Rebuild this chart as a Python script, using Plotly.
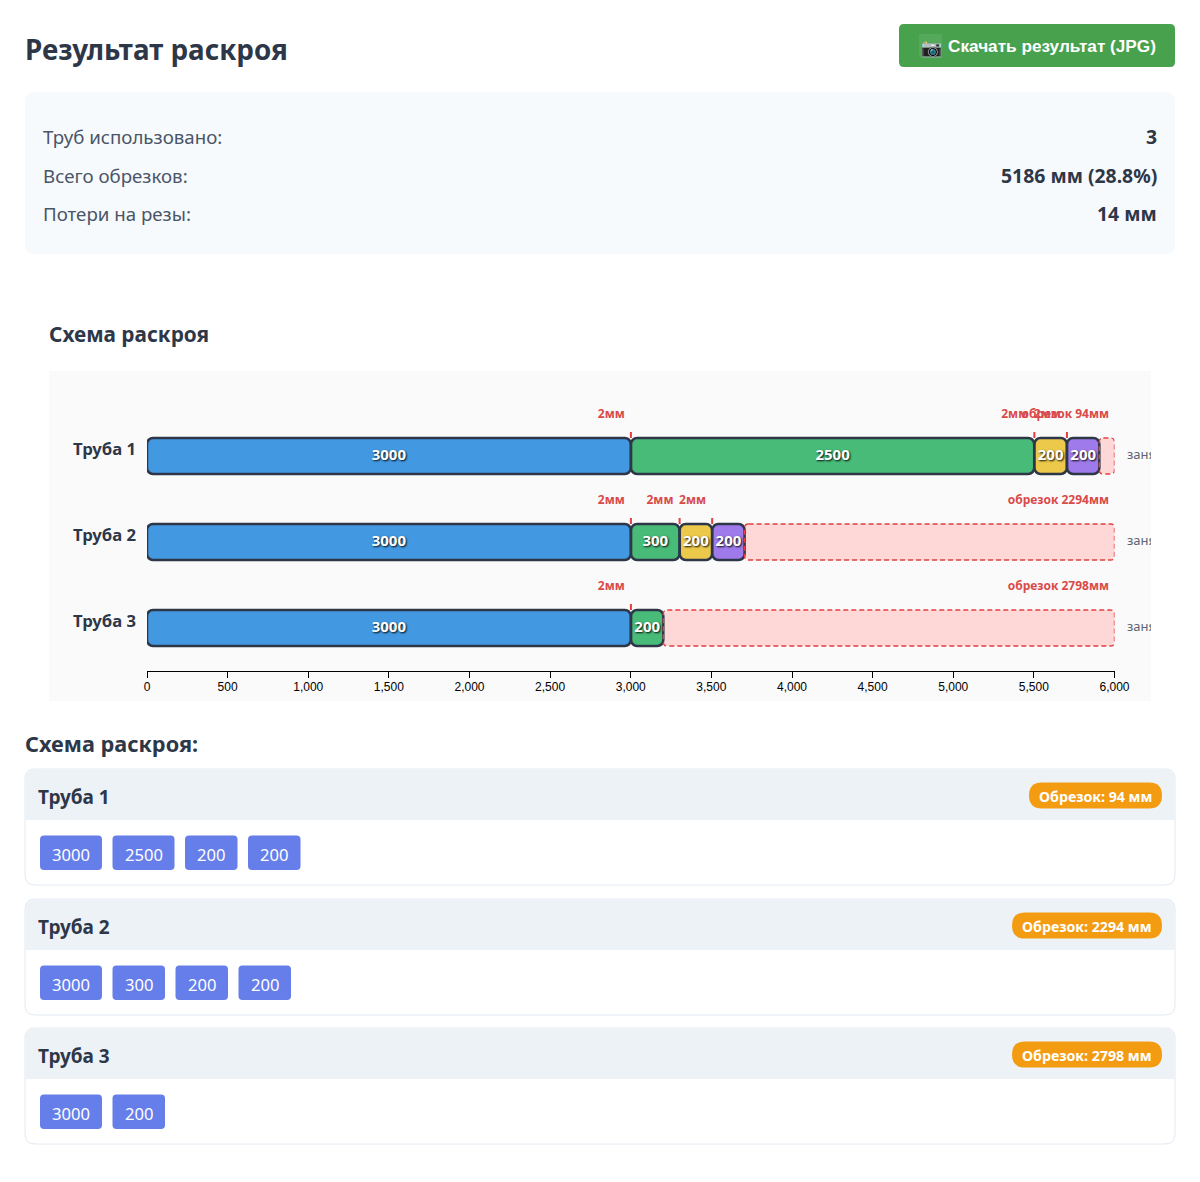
import plotly.graph_objects as go

# ---- cutting plan ----
pipe_names = ["Труба 1", "Труба 2", "Труба 3"]
pipe_cuts = [[3000, 2500, 200, 200], [3000, 300, 200, 200], [3000, 200]]
pipe_waste = [94, 2294, 2798]
pipe_used = [5906, 3706, 3202]
kerf_mm = 2
stock_ticks = [0, 500, 1000, 1500, 2000, 2500, 3000, 3500, 4000, 4500, 5000, 5500, 6000]
cut_colors = ["#4299e1", "#48bb78", "#ecc94b", "#9f7aea"]

summary_labels = ["Труб использовано:", "Всего обрезков:", "Потери на резы:"]
summary_values = ["3", "5186 мм (28.8%)", "14 мм"]

W, H = 1200, 1182
FONT = "Noto Sans"
DARK = "#2d3748"
RED = "#e53e3e"

# page-pixel geometry of the plot
AX_LEFT, AX_RIGHT, AX_TOP, AX_BOTTOM = 147, 1114.5, 413, 671
CLIP_RIGHT = 1151
PX_PER_MM = (AX_RIGHT - AX_LEFT) / 6000
BAND_PX = (AX_BOTTOM - AX_TOP) / 3
BAR_H = 36 / BAND_PX


def px(x):
    return x / W


def py(y):
    return 1 - y / H


def rounded(x0, y0, x1, y1, r, top_only=False):
    """SVG path of a rounded rectangle given in page pixels."""
    rb = 0 if top_only else r
    pts = [
        f"M {px(x0 + r)} {py(y0)}",
        f"L {px(x1 - r)} {py(y0)}",
        f"Q {px(x1)} {py(y0)} {px(x1)} {py(y0 + r)}",
        f"L {px(x1)} {py(y1 - rb)}",
        f"Q {px(x1)} {py(y1)} {px(x1 - rb)} {py(y1)}",
        f"L {px(x0 + rb)} {py(y1)}",
        f"Q {px(x0)} {py(y1)} {px(x0)} {py(y1 - rb)}",
        f"L {px(x0)} {py(y0 + r)}",
        f"Q {px(x0)} {py(y0)} {px(x0 + r)} {py(y0)}",
        "Z",
    ]
    return " ".join(pts)


shapes, notes = [], []


def box(x0, y0, x1, y1, r, fill, line=None, top_only=False):
    shapes.append(dict(
        type="path", xref="paper", yref="paper", layer="below",
        path=rounded(x0, y0, x1, y1, r, top_only),
        fillcolor=fill,
        line=dict(color=line or "rgba(0,0,0,0)", width=1 if line else 0),
    ))


def label(x, y, text, size, color, bold=False, anchor="left", family=FONT):
    notes.append(dict(
        xref="paper", yref="paper", x=px(x), y=py(y), text=f"<b>{text}</b>" if bold else text,
        showarrow=False, xanchor=anchor, yanchor="middle", borderpad=0, borderwidth=0,
        font=dict(family=family, size=size, color=color),
    ))


# ---- page header and summary ----
label(25, 48.5, "Результат раскроя", 27.8, DARK, bold=True)
box(899, 24, 1175, 67, 5, "#48a14d")
box(919, 34, 942, 57, 0, "#55a95a")
label(921, 47, "📷", 17, "#434955")
box(924, 41.5, 928, 44.5, 1.5, "#f2c94c")
label(948, 46, "Скачать результат (JPG)", 17.2, "#ffffff", bold=True, family="Liberation Sans")

box(25, 92, 1175, 254, 9, "#f7fafc")
for row_y, name, value in zip([136.5, 175.5, 213.5], summary_labels, summary_values):
    label(43, row_y, name, 18.7, "#4a5568")
    label(1157, row_y, value, 19.4, DARK, bold=True, anchor="right")

# ---- diagram panel ----
label(49, 334.5, "Схема раскроя", 20.8, DARK, bold=True)
box(49, 371, 1151, 701, 0, "#fafafa")

# ---- list of pipes ----
label(25, 743.5, "Схема раскроя:", 21.7, DARK, bold=True)
for card_top, name, cuts, waste in zip([769, 899, 1028], pipe_names, pipe_cuts, pipe_waste):
    box(25, card_top, 1175, card_top + 116, 10, "#ffffff", "#e2e8f0")
    box(25.5, card_top + 0.5, 1174.5, card_top + 51, 10, "#edf2f7", top_only=True)
    label(38, card_top + 27.5, name, 19, DARK, bold=True)
    pill_left = 1029 if waste < 1000 else 1012
    box(pill_left, card_top + 13.5, 1162, card_top + 39.5, 13, "#f39c12")
    label((pill_left + 1162) / 2, card_top + 27.5, f"Обрезок: {waste} мм", 14.2, "#ffffff", bold=True, anchor="center")
    chip_x = 40
    for cut in cuts:
        chip_w = 24 + 9.5 * len(str(cut))
        box(chip_x, card_top + 66.5, chip_x + chip_w, card_top + 101, 4, "#667eea")
        label(chip_x + chip_w / 2, card_top + 85, str(cut), 16.6, "#ffffff", anchor="center")
        chip_x += chip_w + 10.5

# ---- diagram marks derived from the plan ----
seg_x, seg_y, seg_base, seg_color, seg_text, seg_mid = [], [], [], [], [], []
kerf_x, kerf_y, kerf_lx, kerf_ly = [], [], [], []
waste_x, waste_y, waste_base = [], [], []
LABEL_ROW = 41 / BAND_PX
TICK_TOP = 24 / BAND_PX

for row, (cuts, waste) in enumerate(zip(pipe_cuts, pipe_waste)):
    pos = 0
    for i, cut in enumerate(cuts):
        seg_x.append(cut)
        seg_y.append(row)
        seg_base.append(pos)
        seg_color.append(cut_colors[i])
        seg_text.append(str(cut))
        seg_mid.append(pos + cut / 2)
        pos += cut
        if i < len(cuts) - 1:
            kerf_lx.append(pos)
            kerf_ly.append(row - LABEL_ROW)
            kerf_x += [pos + kerf_mm / 2, pos + kerf_mm / 2, None]
            kerf_y += [row - TICK_TOP, row - BAR_H / 2, None]
            pos += kerf_mm
    waste_x.append(waste)
    waste_y.append(row)
    waste_base.append(6000 - waste)

    # dashed outline of the offcut
    x0, x1 = 6000 - waste, 6000
    y0, y1 = row - BAR_H / 2, row + BAR_H / 2
    rx, ry = 4 / PX_PER_MM, 4 / BAND_PX
    shapes.append(dict(
        type="path", xref="x", yref="y", layer="above",
        path=(f"M {x0 + rx} {y0} L {x1 - rx} {y0} Q {x1} {y0} {x1} {y0 + ry} L {x1} {y1 - ry} "
              f"Q {x1} {y1} {x1 - rx} {y1} L {x0 + rx} {y1} Q {x0} {y1} {x0} {y1 - ry} "
              f"L {x0} {y0 + ry} Q {x0} {y0} {x0 + rx} {y0} Z"),
        line=dict(color=RED, width=1.4, dash="5px,3px"),
    ))
    notes.append(dict(
        xref="paper", yref="y", x=px(137.5), y=row, yshift=7.5, text=f"<b>{pipe_names[row]}</b>",
        showarrow=False, xanchor="right", yanchor="middle",
        font=dict(family=FONT, size=16.7, color=DARK),
    ))

fig = go.Figure()

fig.add_trace(go.Bar(
    orientation="h", x=waste_x, y=waste_y, base=waste_base, width=BAR_H,
    marker=dict(color="#fed7d7", line=dict(width=0)), hoverinfo="skip",
))
fig.add_trace(go.Bar(
    orientation="h", x=seg_x, y=seg_y, base=seg_base, width=BAR_H,
    marker=dict(color=seg_color, line=dict(color=DARK, width=2.5)),
    hoverinfo="skip",
))
# piece lengths, centred on their segments
fig.add_trace(go.Scatter(
    x=seg_mid, y=[r + 0.5 / BAND_PX for r in seg_y], mode="text", text=seg_text,
    textposition="middle center", cliponaxis=False, hoverinfo="skip",
    textfont=dict(family=FONT, size=15, color="#ffffff", weight="bold", shadow="1px 1px 2px rgba(0,0,0,0.95)"),
))
# kerf ticks above each joint
fig.add_trace(go.Scatter(
    x=kerf_x, y=kerf_y, mode="lines", line=dict(color=RED, width=2), hoverinfo="skip", cliponaxis=False,
))
# kerf captions
fig.add_trace(go.Scatter(
    x=[v - 6 / PX_PER_MM for v in kerf_lx], y=kerf_ly, mode="text", text=[f"{kerf_mm}мм"] * len(kerf_lx),
    textposition="middle left", cliponaxis=False, hoverinfo="skip",
    textfont=dict(family=FONT, size=12, color="#d94a4a", weight="bold"),
))
# offcut captions
fig.add_trace(go.Scatter(
    x=[6000 - 5.5 / PX_PER_MM] * 3, y=[r - LABEL_ROW for r in range(3)], mode="text",
    text=[f"обрезок {w}мм" for w in pipe_waste],
    textposition="middle left", cliponaxis=False, hoverinfo="skip",
    textfont=dict(family=FONT, size=12, color="#d94a4a", weight="bold"),
))
# usage captions run past the panel edge and are cut off by the wider hidden axis
fig.add_trace(go.Scatter(
    x=[6000 + 12.5 / PX_PER_MM] * 3, y=list(range(3)), mode="text", xaxis="x2", yaxis="y",
    text=[f"занято {u}мм" for u in pipe_used],
    textposition="middle right", cliponaxis=True, hoverinfo="skip",
    textfont=dict(family=FONT, size=13, color="#5a6575"),
))

fig.update_layout(
    width=W, height=H, margin=dict(l=0, r=0, t=0, b=0, autoexpand=False), autosize=False,
    paper_bgcolor="#ffffff", plot_bgcolor="rgba(0,0,0,0)", showlegend=False,
    barmode="overlay", barcornerradius=6,
    shapes=shapes, annotations=notes,
    xaxis=dict(
        domain=[px(AX_LEFT), px(AX_RIGHT)], range=[0, 6000], anchor="y",
        tickmode="array", tickvals=stock_ticks, ticktext=[f"{v:,}" for v in stock_ticks],
        ticks="outside", ticklen=6, tickwidth=1, tickcolor="#000000", ticklabelstandoff=-2,
        showline=True, linecolor="#000000", linewidth=1.2, showgrid=False, zeroline=False,
        tickfont=dict(family="Liberation Sans", size=12, color="#000000"),
    ),
    xaxis2=dict(
        domain=[px(AX_LEFT), px(CLIP_RIGHT)], range=[0, (CLIP_RIGHT - AX_LEFT) / PX_PER_MM],
        anchor="y", visible=False,
    ),
    yaxis=dict(
        domain=[py(AX_BOTTOM), py(AX_TOP)], range=[2.5, -0.5], anchor="x",
        visible=False, showgrid=False, zeroline=False,
    ),
)

fig.write_html("out.html")
